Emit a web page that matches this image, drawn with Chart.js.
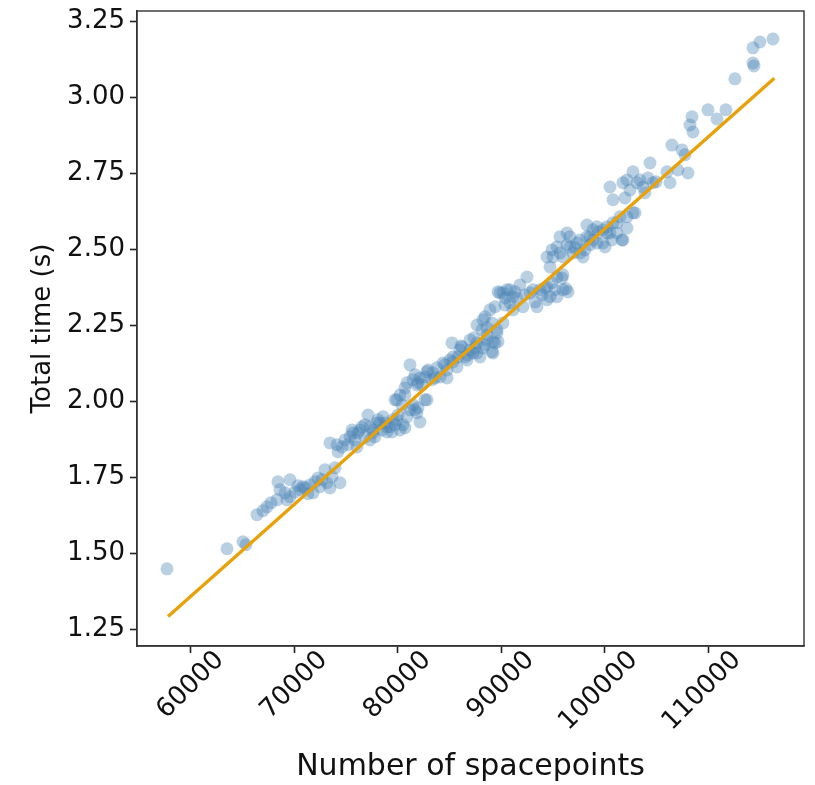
<!DOCTYPE html>
<html>
<head>
<meta charset="utf-8">
<script src="https://cdn.jsdelivr.net/npm/chart.js@4/dist/chart.umd.min.js"></script>
<style>
html,body{margin:0;padding:0;background:#fff;}
#wrap{width:815px;height:785px;}
</style>
</head>
<body>
<div id="wrap"><canvas id="c" width="815" height="785"></canvas></div>
<script>
// ---- data ----
const xTicks = [60000, 70000, 80000, 90000, 100000, 110000];
const yTicks = [1.25, 1.50, 1.75, 2.00, 2.25, 2.50, 2.75, 3.00, 3.25];

const spacepoints = [
57680,63480,65030,65320,66380,66960,67350,67740,68320,68410,69570,69090,69570,69280,70060,70540,71020,71800,71990,72470,72960,73150,73630,73930,74410,70830,71510,72280,68610,70350,71310,72670,73440,
73440,74120,74220,74600,74890,75380,75670,75570,76050,76150,76340,76540,76830,77120,77310,77310,77600,77650,77990,78080,78280,78570,78760,78950,78950,79240,79530,79730,79920,80210,80500,80890,81180,81470,81850,81950,82140,81660,75860,75180,76830,77790,78470,79440,80020,80690,
79730,79920,80210,80400,80690,80690,80890,81180,81470,81850,81950,82140,82630,82630,82820,82820,82920,83300,83400,83790,84080,84370,84760,84760,85240,85340,85340,85720,85820,86010,86110,86210,86500,86690,86980,87270,87660,87660,87950,88240,88430,88620,88620,88620,89110,89200,89200,89590,89690,90170,81660,82340,83600,84560,85050,86790,87460,
86980,87370,87660,88140,88240,88430,88910,89110,89400,89400,89590,89690,89880,90170,90360,90560,90850,90850,91140,91140,91520,91810,92100,92490,92780,93270,93460,93750,94230,94430,94430,94720,94720,94910,95390,95390,95880,95970,96260,96460,90360,91330,92300,93070,93940,95200,
94430,94910,95010,95390,95680,95680,96360,96360,96650,96650,97330,97620,97910,98100,98290,98290,98870,98870,99260,99360,99840,100230,100230,100710,101190,101190,101680,102160,102740,95970,95970,96940,97620,98580,99260,99840,100520,100030,101480,100810,102160,101770,97130,98580,
100520,100810,101970,102940,101770,102160,102450,102740,103130,103710,103900,104190,104390,104680,106030,106320,106510,107090,107480,107770,108060,103420,104970,
108450,108250,108540,109990,110860,111730,112600,114350,114440,114350,115020,116280
];
const totalTime = [
1.450,1.516,1.539,1.529,1.628,1.641,1.654,1.667,1.677,1.736,1.743,1.700,1.687,1.677,1.703,1.710,1.716,1.700,1.736,1.720,1.776,1.733,1.753,1.782,1.733,1.720,1.726,1.749,1.710,1.723,1.697,1.743,1.716,
1.864,1.858,1.835,1.851,1.874,1.884,1.897,1.907,1.851,1.897,1.907,1.917,1.884,1.956,1.917,1.874,1.897,1.907,1.930,1.940,1.930,1.950,1.930,1.900,1.917,1.917,1.940,1.924,1.940,1.907,1.924,1.950,1.973,1.989,1.963,1.980,1.933,1.973,1.874,1.858,1.924,1.884,1.907,1.900,1.956,1.914,
2.006,2.006,2.022,1.989,2.045,2.022,2.062,2.121,2.072,2.055,2.062,2.078,2.081,2.006,2.006,2.098,2.104,2.072,2.095,2.111,2.081,2.127,2.104,2.078,2.193,2.131,2.147,2.114,2.147,2.170,2.183,2.180,2.147,2.137,2.170,2.160,2.193,2.160,2.147,2.177,2.187,2.220,2.203,2.243,2.164,2.197,2.160,2.226,2.197,2.259,2.088,2.055,2.078,2.121,2.137,2.154,2.177,
2.203,2.210,2.252,2.236,2.269,2.279,2.302,2.259,2.312,2.193,2.236,2.361,2.358,2.358,2.318,2.368,2.368,2.325,2.302,2.345,2.341,2.384,2.312,2.410,2.358,2.328,2.312,2.368,2.374,2.377,2.335,2.443,2.345,2.391,2.345,2.410,2.407,2.368,2.371,2.361,2.341,2.361,2.351,2.368,2.351,2.368,
2.476,2.499,2.476,2.509,2.489,2.542,2.516,2.555,2.542,2.509,2.522,2.489,2.476,2.499,2.542,2.581,2.532,2.565,2.522,2.558,2.522,2.555,2.575,2.532,2.555,2.588,2.532,2.608,2.621,2.476,2.417,2.489,2.532,2.542,2.575,2.565,2.555,2.509,2.608,2.588,2.571,2.532,2.506,2.516,
2.706,2.664,2.670,2.621,2.720,2.729,2.696,2.756,2.720,2.706,2.687,2.736,2.785,2.720,2.756,2.720,2.844,2.762,2.828,2.812,2.752,2.729,2.723,
2.937,2.910,2.887,2.960,2.930,2.960,3.062,3.114,3.104,3.164,3.183,3.193
];

// linear fit endpoints
const fitX = [57780, 116410];
const fitY = [1.293, 3.064];

// axis limits
const xRange = [54780, 119280];
const yRange = [1.196, 3.285];

// ---- chart ----
const FONT = "'DejaVu Sans', sans-serif";
const points = spacepoints.map((x, i) => ({x: x, y: totalTime[i]}));
const fitLine = fitX.map((x, i) => ({x: x, y: fitY[i]}));

const frame = {
  id: 'frame',
  afterDatasetsDraw(chart) {
    const a = chart.chartArea, ctx = chart.ctx;
    ctx.save();
    ctx.strokeStyle = '#333';
    ctx.lineWidth = 1.4;
    ctx.strokeRect(a.left, a.top, a.right - a.left, a.bottom - a.top);
    ctx.restore();
  }
};

new Chart(document.getElementById('c'), {
  type: 'scatter',
  data: {
    datasets: [
      {
        type: 'line',
        data: fitLine,
        borderColor: '#E9A10A',
        borderWidth: 3.4,
        pointRadius: 0,
        fill: false,
        order: 0
      },
      {
        data: points,
        backgroundColor: 'rgba(70,130,180,0.38)',
        borderWidth: 0,
        pointRadius: 6.5,
        order: 1
      }
    ]
  },
  options: {
    responsive: false,
    animation: false,
    layout: {padding: {left: 0, top: 11, right: 11, bottom: 0}},
    plugins: {legend: {display: false}, tooltip: {enabled: false}},
    scales: {
      x: {
        type: 'linear',
        min: xRange[0], max: xRange[1],
        afterBuildTicks: s => { s.ticks = xTicks.map(v => ({value: v})); },
        afterFit: s => { s.height = 139; s.paddingLeft = 0; s.paddingRight = 0; },
        grid: {drawOnChartArea: false, drawTicks: true, tickLength: 7, tickColor: '#222', tickWidth: 1.6},
        border: {display: true, color: '#333', width: 1.4},
        ticks: {
          autoSkip: false, minRotation: 45, maxRotation: 45,
          color: '#111', font: {family: FONT, size: 26}, padding: -8, labelOffset: 29,
          callback: v => String(v)
        },
        title: {display: true, text: 'Number of spacepoints', color: '#111',
                font: {family: FONT, size: 30}, padding: {top: 0, bottom: 0}}
      },
      y: {
        type: 'linear',
        min: yRange[0], max: yRange[1],
        afterBuildTicks: s => { s.ticks = yTicks.map(v => ({value: v})); },
        afterFit: s => { s.width = 137; s.paddingTop = 0; s.paddingBottom = 0; },
        grid: {drawOnChartArea: false, drawTicks: true, tickLength: 7, tickColor: '#222', tickWidth: 1.6},
        border: {display: true, color: '#333', width: 1.4},
        ticks: {
          autoSkip: false, color: '#111', font: {family: FONT, size: 26}, padding: 5,
          callback: v => Number(v).toFixed(2)
        },
        title: {display: true, text: 'Total time (s)', color: '#111',
                font: {family: FONT, size: 26}, padding: {top: 28, bottom: 0}}
      }
    }
  },
  plugins: [frame]
});
</script>
</body>
</html>
